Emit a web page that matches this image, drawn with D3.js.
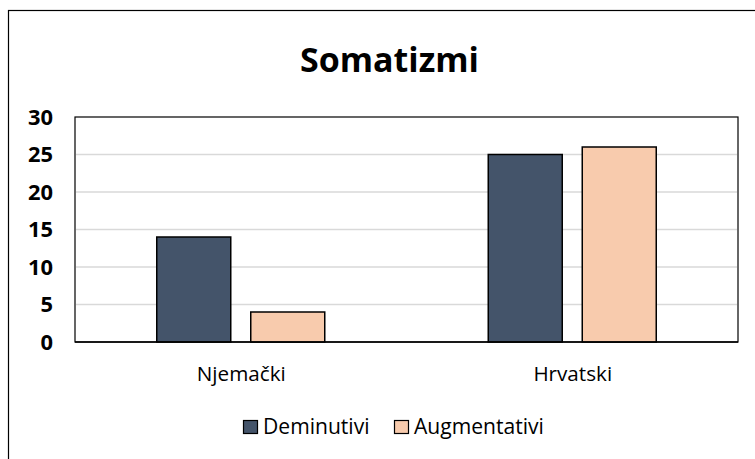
<!DOCTYPE html>
<html><head><meta charset="utf-8">
<script src="https://cdn.jsdelivr.net/npm/d3@7"></script>
<style>html,body{margin:0;padding:0;background:#fff;overflow:hidden}</style>
</head><body>
<svg id="c" width="755" height="459"></svg>
<script>
const categories = ["Njemački", "Hrvatski"];
const seriesNames = ["Deminutivi", "Augmentativi"];
const deminutivi = [14, 25];
const augmentativi = [4, 26];
const yTicks = [0, 5, 10, 15, 20, 25, 30];
const title = "Somatizmi";
const colors = ["#44546A", "#F8CBAD"];

const svg = d3.select("#c");
const font = "'Open Sans', Lato, sans-serif";

function fitSize(txt, weight, target) {
  const t = svg.append("text").attr("font-family", font).attr("font-weight", weight)
    .attr("font-size", 100).text(txt);
  const w = t.node().getComputedTextLength();
  t.remove();
  return 100 * target / w;
}

svg.append("rect").attr("x", 8.5).attr("y", 10.5).attr("width", 800).attr("height", 500)
  .attr("fill", "#fff").attr("stroke", "#000").attr("stroke-width", 1.2);

const L = 75, R = 738, T = 117, B = 342;
const x = d3.scaleBand().domain(categories).range([L, R]);
const xs = d3.scaleBand().domain(seriesNames).range([0, 168]).paddingInner(20/94);
const y = d3.scaleLinear().domain([0, 30]).range([B, T]);

svg.append("rect").attr("x", L).attr("y", T).attr("width", R - L).attr("height", B - T)
  .attr("fill", "#fff").attr("stroke", "#000").attr("stroke-width", 1.2);

svg.append("g").selectAll("line").data(yTicks.filter(d => d > 0 && d < 30)).join("line")
  .attr("x1", L + 1).attr("x2", R - 1).attr("y1", d => y(d)).attr("y2", d => y(d))
  .attr("stroke", "#d9d9d9").attr("stroke-width", 1.5);

const data = [deminutivi, augmentativi];
seriesNames.forEach((s, si) => {
  svg.append("g").selectAll("rect").data(categories).join("rect")
    .attr("x", (c) => x(c) + x.bandwidth() / 2 - 84 + xs(s))
    .attr("y", (c, i) => y(data[si][i]))
    .attr("width", xs.bandwidth())
    .attr("height", (c, i) => B - y(data[si][i]))
    .attr("fill", colors[si]).attr("stroke", "#000").attr("stroke-width", 1.5);
});

svg.append("line").attr("x1", L).attr("x2", R).attr("y1", B).attr("y2", B)
  .attr("stroke", "#000").attr("stroke-width", 1.5);

const tickFs = fitSize("30", "bold", 25);
svg.append("g").selectAll("text").data(yTicks).join("text")
  .attr("x", 53).attr("y", d => y(d)).attr("dy", "0.36em")
  .attr("text-anchor", "end").attr("font-family", font).attr("font-weight", "bold")
  .attr("font-size", tickFs).text(d => d);

const catFs = fitSize("Njemački", "normal", 89);
svg.append("g").selectAll("text").data(categories).join("text")
  .attr("x", c => x(c) + x.bandwidth() / 2 + 0.5).attr("y", 381)
  .attr("text-anchor", "middle").attr("font-family", font).attr("font-size", catFs).text(d => d);

const titleFs = fitSize(title, "bold", 179);
svg.append("text").attr("x", 389.5).attr("y", 72).attr("text-anchor", "middle")
  .attr("font-family", font).attr("font-weight", "bold").attr("font-size", titleFs).text(title);

const legFs = fitSize(seriesNames[1], "normal", 130);
const leg = [{n: seriesNames[0], x: 243}, {n: seriesNames[1], x: 394}];
leg.forEach((l, i) => {
  svg.append("rect").attr("x", l.x + 0.5).attr("y", 420.5).attr("width", 14).attr("height", 13)
    .attr("fill", colors[i]).attr("stroke", "#000").attr("stroke-width", 1.2);
  svg.append("text").attr("x", l.x + 20).attr("y", 434).attr("font-family", font)
    .attr("font-size", legFs).text(l.n);
});
</script>
</body></html>
